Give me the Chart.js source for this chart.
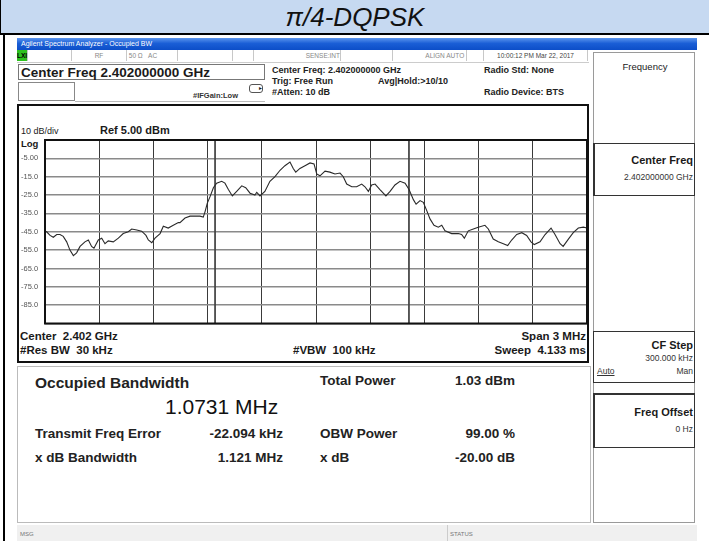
<!DOCTYPE html>
<html>
<head>
<meta charset="utf-8">
<script src="https://cdn.jsdelivr.net/npm/chart.js@4.4.1/dist/chart.umd.min.js"></script>
<style>
  body { margin: 0; width: 709px; height: 541px; background: #fff; position: relative; overflow: hidden;
         font-family: "Liberation Sans", Arial, sans-serif; color: #1a1a1a; }
  .abs { position: absolute; white-space: nowrap; }
  .b { font-weight: bold; }
  #title { left: 0; top: 0; width: 708px; height: 33px; background: #c6d9f1; border-left: 1px solid #000;
           border-right: 1px solid #000; text-align: center; font-style: italic; font-size: 26px; line-height: 35px; color: #111; }
  #titleLine { left: 0; top: 33px; width: 709px; height: 2px; background: #000; }
  #leftLine { left: 3px; top: 33px; width: 2px; height: 508px; background: #000; }
  #appBar { left: 17px; top: 38px; width: 680px; height: 12px;
            background: linear-gradient(#5b95ee, #1a5ed6 45%, #0c4ec8); color: #fff; font-size: 7px; line-height: 12px; padding-left: 4px; box-sizing: border-box; }
  #statusRow { left: 17px; top: 50px; width: 572px; height: 12px; background: #fff; border-bottom: 1px solid #ccc; }
  .cell { position: absolute; top: 0; height: 11px; border-right: 1px solid #c8c8c8; font-size: 6.5px; color: #888; line-height: 11px; }
  #softkeys { left: 593px; top: 52px; width: 102px; height: 471px; background: #fff; border: 1px solid #9a9a9a; box-sizing: border-box; }
  .key { position: absolute; left: 593px; width: 102px; border: 1px solid #333; border-left-width: 2px; box-sizing: border-box; }
  #graphBox { left: 17px; top: 104px; width: 572px; height: 259px; border: 2px solid #111; box-sizing: border-box; background: #fff; }
  #chartCanvas { position: absolute; left: 17px; top: 104px; }
  #results { left: 17px; top: 366px; width: 574px; height: 157px; border: 1px solid #bbb; box-sizing: border-box; background: #fff; }
  #msgBar { left: 17px; top: 525px; width: 680px; height: 16px; background: #f0f0f0; font-size: 6px; color: #777; }
</style>
</head>
<body>
<div id="title" class="abs">π/4-DQPSK</div>
<div id="titleLine" class="abs"></div>
<div id="leftLine" class="abs"></div>

<div id="appBar" class="abs">Agilent Spectrum Analyzer - Occupied BW</div>
<div id="statusRow" class="abs">
  <div class="cell" style="left:0;width:10px;background:#2ec21e;color:#000;font-weight:bold;">LXI</div>
  <div class="cell" style="left:11px;width:43px;"></div>
  <div class="cell" style="left:55px;width:54px;text-align:center;">RF</div>
  <div class="cell" style="left:110px;width:50px;">&nbsp;50 Ω &nbsp;&nbsp;AC</div>
  <div class="cell" style="left:161px;width:54px;"></div>
  <div class="cell" style="left:216px;width:20px;"></div>
  <div class="cell" style="left:237px;width:86px;text-align:right;">SENSE:INT</div>
  <div class="cell" style="left:324px;width:51px;"></div>
  <div class="cell" style="left:376px;width:73px;text-align:right;">ALIGN AUTO&nbsp;</div>
  <div class="cell" style="left:450px;width:16px;"></div>
  <div class="cell" style="left:467px;width:103px;color:#444;text-align:center;">10:00:12 PM Mar 22, 2017</div>
</div>

<div class="abs b" style="left:18px;top:64px;width:247px;height:16px;border:1px solid #777;box-sizing:border-box;font-size:13.5px;line-height:15px;padding-left:2px;">Center Freq 2.402000000 GHz</div>
<div class="abs" style="left:18px;top:82px;width:57px;height:19px;border:1px solid #888;box-sizing:border-box;"></div>
<div class="abs" style="left:75px;top:82px;width:190px;height:19px;border-bottom:1px solid #bbb;"></div>
<div class="abs b" style="left:193px;top:91px;font-size:7.5px;color:#333;">#IFGain:Low</div>
<div class="abs" style="left:249px;top:84px;width:12px;height:7px;border:1px solid #555;border-radius:3px;font-size:6px;line-height:7px;text-align:right;">▸</div>
<div class="abs b" style="left:272px;top:65px;font-size:9px;line-height:11px;color:#222;">Center Freq: 2.402000000 GHz<br>Trig: Free Run<br>#Atten: 10 dB</div>
<div class="abs b" style="left:378px;top:76px;font-size:9px;line-height:11px;color:#222;">Avg|Hold:&gt;10/10</div>
<div class="abs b" style="left:484px;top:65px;font-size:9px;line-height:11px;color:#222;">Radio Std: None</div>
<div class="abs b" style="left:484px;top:87px;font-size:9px;line-height:11px;color:#222;">Radio Device: BTS</div>

<div id="softkeys" class="abs"></div>
<div class="abs" style="left:596px;top:61px;width:98px;text-align:center;font-size:9.5px;color:#222;">Frequency</div>
<div class="key" style="top:143px;height:53px;"></div>
<div class="abs b" style="left:596px;top:154px;width:97px;text-align:right;font-size:11px;">Center Freq</div>
<div class="abs" style="left:596px;top:172px;width:97px;text-align:right;font-size:8.5px;color:#333;">2.402000000 GHz</div>
<div class="key" style="top:331px;height:52px;border-left-width:1px;"></div>
<div class="abs b" style="left:596px;top:339px;width:97px;text-align:right;font-size:11px;">CF Step</div>
<div class="abs" style="left:596px;top:353px;width:97px;text-align:right;font-size:8.5px;color:#333;">300.000 kHz</div>
<div class="abs" style="left:597px;top:366px;font-size:8.5px;color:#333;text-decoration:underline;">Auto</div>
<div class="abs" style="left:596px;top:366px;width:97px;text-align:right;font-size:8.5px;color:#333;">Man</div>
<div class="key" style="top:393px;height:55px;border-top-width:2px;"></div>
<div class="abs b" style="left:596px;top:406px;width:97px;text-align:right;font-size:11px;">Freq Offset</div>
<div class="abs" style="left:596px;top:424px;width:97px;text-align:right;font-size:8.5px;color:#333;">0 Hz</div>

<div id="graphBox" class="abs"></div>
<div class="abs" style="left:21px;top:126px;font-size:9px;">10 dB/div</div>
<div class="abs b" style="left:100px;top:124px;font-size:11px;">Ref 5.00 dBm</div>
<div class="abs b" style="left:21px;top:138px;font-size:9.5px;">Log</div>
<canvas id="chartCanvas" width="572" height="226"></canvas>
<div class="abs b" style="left:20px;top:330px;font-size:11.5px;">Center&nbsp; 2.402 GHz</div>
<div class="abs b" style="left:20px;top:344px;font-size:11.5px;">#Res BW&nbsp; 30 kHz</div>
<div class="abs b" style="left:293px;top:344px;font-size:11.5px;">#VBW&nbsp; 100 kHz</div>
<div class="abs b" style="left:380px;top:330px;width:206px;text-align:right;font-size:11.5px;">Span 3 MHz</div>
<div class="abs b" style="left:380px;top:344px;width:206px;text-align:right;font-size:11.5px;">Sweep&nbsp; 4.133 ms</div>

<div id="results" class="abs"></div>
<div class="abs b" style="left:35px;top:374px;font-size:15.5px;color:#222;">Occupied Bandwidth</div>
<div class="abs" style="left:165px;top:395px;font-size:21px;color:#111;">1.0731 MHz</div>
<div class="abs b" style="left:320px;top:373px;font-size:13.5px;color:#222;">Total Power</div>
<div class="abs b" style="left:400px;top:373px;width:115px;text-align:right;font-size:13.5px;color:#222;">1.03 dBm</div>
<div class="abs b" style="left:35px;top:426px;font-size:13.5px;color:#222;">Transmit Freq Error</div>
<div class="abs b" style="left:180px;top:426px;width:103px;text-align:right;font-size:13.5px;color:#222;">-22.094 kHz</div>
<div class="abs b" style="left:320px;top:426px;font-size:13.5px;color:#222;">OBW Power</div>
<div class="abs b" style="left:400px;top:426px;width:115px;text-align:right;font-size:13.5px;color:#222;">99.00 %</div>
<div class="abs b" style="left:35px;top:450px;font-size:13.5px;color:#222;">x dB Bandwidth</div>
<div class="abs b" style="left:180px;top:450px;width:103px;text-align:right;font-size:13.5px;color:#222;">1.121 MHz</div>
<div class="abs b" style="left:320px;top:450px;font-size:13.5px;color:#222;">x dB</div>
<div class="abs b" style="left:400px;top:450px;width:115px;text-align:right;font-size:13.5px;color:#222;">-20.00 dB</div>

<div id="msgBar" class="abs">
  <span class="abs" style="left:3px;top:6px;">MSG</span>
  <span class="abs" style="left:430px;top:0;width:1px;height:16px;background:#ccc;"></span>
  <span class="abs" style="left:433px;top:6px;">STATUS</span>
</div>

<script>
// trace: offset from centre (MHz) and level (dBm)
const freqOffsetMHz = [
  -1.500, -1.491, -1.472, -1.454, -1.435, -1.417, -1.399, -1.380, -1.362, -1.343,
  -1.325, -1.306, -1.279, -1.260, -1.242, -1.229, -1.205, -1.186, -1.168, -1.150,
  -1.122, -1.094, -1.067, -1.039, -1.020, -0.992, -0.965, -0.941, -0.928, -0.909,
  -0.891, -0.863, -0.845, -0.818, -0.790, -0.762, -0.753, -0.725, -0.697, -0.670,
  -0.642, -0.624, -0.614, -0.602, -0.587, -0.568, -0.550, -0.522, -0.504, -0.485,
  -0.463, -0.439, -0.411, -0.389, -0.365, -0.338, -0.328, -0.310, -0.283, -0.255,
  -0.227, -0.199, -0.172, -0.144, -0.126, -0.112, -0.089, -0.061, -0.033, -0.011,
   0.004,  0.022,  0.050,  0.077,  0.105,  0.133,  0.151,  0.170,  0.198,  0.225,
   0.253,  0.271,  0.290,  0.308,  0.327,  0.354,  0.387,  0.410,  0.437,  0.465,
   0.493,  0.515,  0.539,  0.554,  0.576,  0.594,  0.613,  0.631,  0.653,  0.677,
   0.696,  0.714,  0.751,  0.788,  0.806,  0.821,  0.843,  0.871,  0.898,  0.935,
   0.954,  0.981,  1.009,  1.037,  1.061,  1.083,  1.111,  1.139,  1.166,  1.190,
   1.208,  1.240,  1.268,  1.301,  1.323,  1.351,  1.368,  1.397,  1.424,  1.452,
   1.480,  1.500
];
const levelDbm = [
  -44.7, -45.0, -47.0, -48.0, -46.5, -46.5, -47.5, -50.5, -55.0, -58.0,
  -56.5, -53.0, -50.5, -49.5, -53.0, -54.0, -49.5, -48.5, -51.5, -50.0,
  -50.5, -48.5, -46.0, -45.0, -43.5, -44.0, -44.7, -47.0, -49.5, -51.0,
  -48.5, -46.0, -42.0, -43.0, -41.5, -40.0, -40.0, -37.5, -36.5, -36.5,
  -36.5, -37.0, -34.0, -29.5, -26.0, -21.0, -18.5, -17.5, -18.5, -22.0,
  -25.5, -23.0, -20.0, -21.0, -24.0, -25.0, -23.5, -25.5, -23.0, -17.5,
  -15.0, -11.5, -9.0, -7.0, -10.5, -12.5, -10.5, -9.0, -7.5, -8.0,
  -13.5, -14.5, -12.0, -12.5, -13.5, -13.0, -15.0, -19.0, -20.5, -20.5,
  -19.0, -20.5, -23.0, -19.5, -19.0, -22.0, -25.5, -23.0, -19.5, -17.5,
  -18.5, -22.0, -27.5, -30.0, -28.0, -29.0, -33.5, -38.0, -41.5, -42.5,
  -41.5, -44.5, -46.0, -46.0, -46.5, -48.5, -44.5, -43.5, -42.5, -41.5,
  -43.5, -49.0, -50.5, -51.5, -52.5, -49.5, -46.5, -45.5, -47.0, -50.5,
  -52.0, -50.5, -46.5, -43.0, -46.5, -51.5, -53.0, -49.0, -45.5, -43.0,
  -42.5, -43.0
];

// occupied bandwidth edges (MHz from centre)
const obwEdgesMHz = [-0.5586, 0.5145];

const refLevel = 5;
const bottomLevel = -95;
const yTickLabels = ["", "-5.00", "-15.0", "-25.0", "-35.0", "-45.0", "-55.0", "-65.0", "-75.0", "-85.0", ""];

const traceData = freqOffsetMHz.map((f, i) => ({ x: f, y: levelDbm[i] }));

const markerSets = obwEdgesMHz.map(f => ({
  data: [{ x: f, y: refLevel }, { x: f, y: bottomLevel }],
  borderColor: "#444",
  borderWidth: 1,
  pointRadius: 0,
  showLine: true
}));

// thick black frame round the plot
const frame = {
  id: "frame",
  afterDraw(chart) {
    const a = chart.chartArea;
    const ctx = chart.ctx;
    ctx.save();
    ctx.strokeStyle = "#111";
    ctx.lineWidth = 2;
    ctx.strokeRect(a.left, a.top, a.right - a.left, a.bottom - a.top);
    ctx.restore();
  }
};

const ctx = document.getElementById("chartCanvas").getContext("2d");
new Chart(ctx, {
  type: "scatter",
  data: {
    datasets: [
      {
        data: traceData,
        borderColor: "#2a2a2a",
        borderWidth: 1.1,
        pointRadius: 0,
        showLine: true,
        tension: 0
      },
      ...markerSets
    ]
  },
  options: {
    responsive: false,
    animation: false,
    plugins: { legend: { display: false }, tooltip: { enabled: false } },
    layout: { padding: { top: 36, right: 2, bottom: 3, left: 4 } },
    scales: {
      x: {
        type: "linear",
        min: -1.5,
        max: 1.5,
        ticks: { display: false, stepSize: 0.3 },
        grid: { color: "#3a3a3a", lineWidth: 1, drawTicks: false },
        border: { display: false },
        afterFit(scale) { scale.height = 0; }
      },
      y: {
        min: bottomLevel,
        max: refLevel,
        ticks: {
          stepSize: 10,
          crossAlign: "far",
          padding: 2,
          color: "#555",
          font: { family: "Liberation Sans", size: 7.5 },
          callback: (v, i) => yTickLabels[yTickLabels.length - 1 - i]
        },
        grid: { color: "#8a8a8a", lineWidth: 1.5, drawTicks: false },
        border: { display: false },
        afterFit(scale) { scale.width = 24; }
      }
    }
  },
  plugins: [frame]
});
</script>
</body>
</html>
